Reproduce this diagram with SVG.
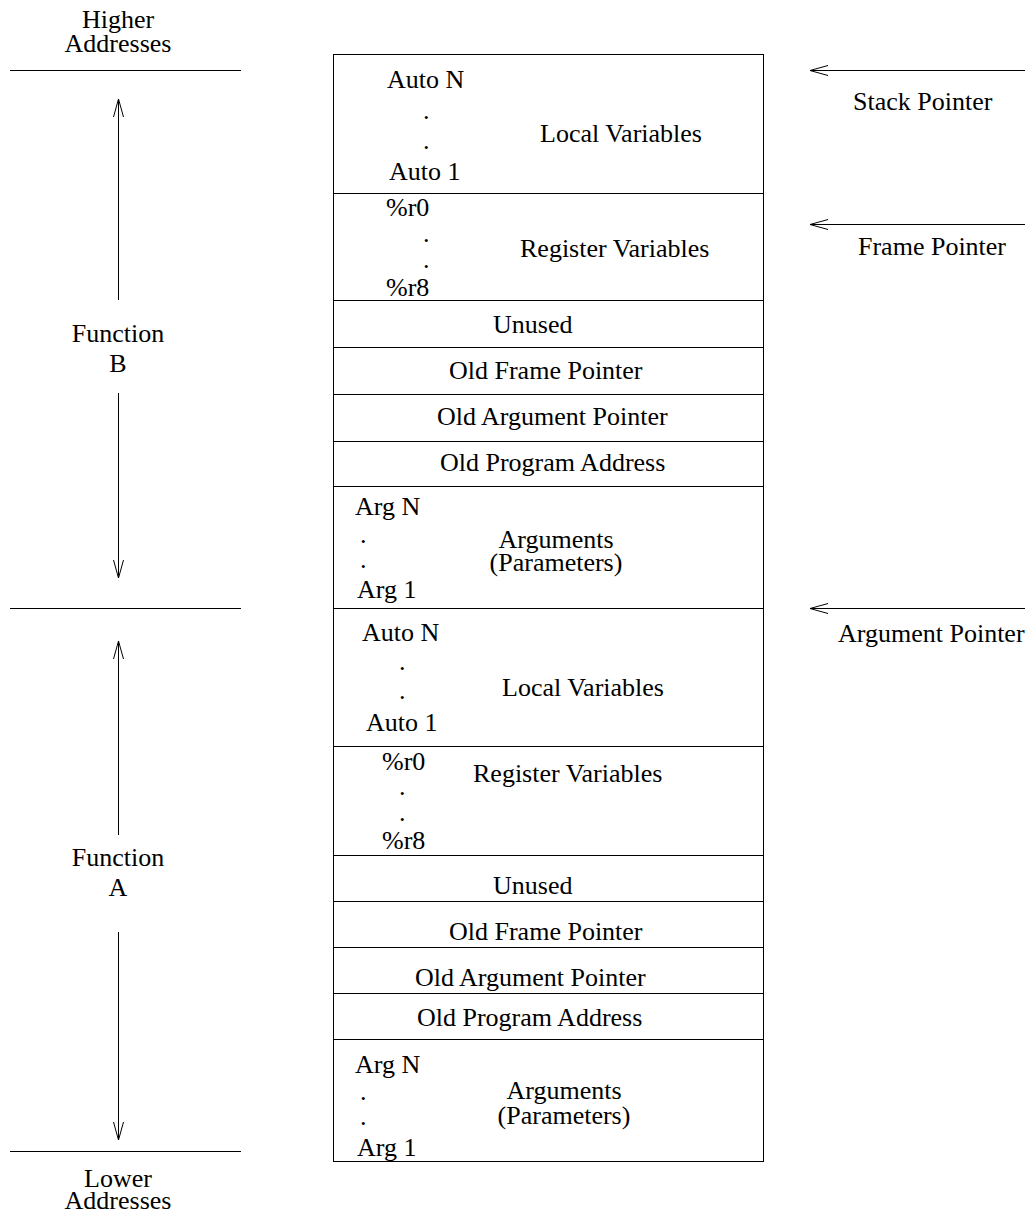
<svg xmlns="http://www.w3.org/2000/svg" width="1032" height="1214" viewBox="0 0 1032 1214">
  <style>
    text { font-family: "Liberation Serif", "Times New Roman", serif; font-size: 26px; fill: #000; }
    .c { text-anchor: middle; }
    .ln { stroke: #000; stroke-width: 1; fill: none; }
    .frame { fill: #fff; stroke: #000; stroke-width: 1; }
  </style>
  <defs>
    <!-- open "V" arrowhead, tip at the line end -->
    <marker id="open" viewBox="0 0 20 12" refX="19" refY="6" markerWidth="20" markerHeight="12" markerUnits="userSpaceOnUse" orient="auto">
      <path d="M1,1 L19,6 L1,11" fill="none" stroke="#000" stroke-width="1"/>
    </marker>
  </defs>
  <rect width="1032" height="1214" fill="#fff"/>

  <!-- address range labels and boundary rules -->
  <g id="higher-addresses">
    <text class="c" x="118" y="28">Higher</text>
    <text class="c" x="118" y="52">Addresses</text>
  </g>
  <g id="lower-addresses">
    <text class="c" x="118" y="1187">Lower</text>
    <text class="c" x="118" y="1209">Addresses</text>
  </g>
  <g id="boundaries">
    <line class="ln" x1="10" y1="70.5" x2="241" y2="70.5"/>
    <line class="ln" x1="10" y1="608.5" x2="241" y2="608.5"/>
    <line class="ln" x1="10" y1="1151.5" x2="241" y2="1151.5"/>
  </g>
  <g id="function-b">
    <text class="c" x="118" y="342">Function</text>
    <text class="c" x="118" y="372">B</text>
  </g>
  <g id="function-a">
    <text class="c" x="118" y="866">Function</text>
    <text class="c" x="118" y="896">A</text>
  </g>

  <!-- stack frame column -->
  <rect class="frame" x="333.5" y="54.5" width="430" height="1107"/>

  <!-- function B frame -->
  <g id="b-locals">
    <text x="387" y="88">Auto N</text>
    <text x="423" y="119">.</text>
    <text x="423" y="149">.</text>
    <text x="389" y="180">Auto 1</text>
    <text x="540" y="142">Local Variables</text>
  </g>
  <g id="b-registers">
    <line class="ln" x1="333" y1="193.5" x2="763" y2="193.5"/>
    <text x="386" y="216">%r0</text>
    <text x="423" y="242">.</text>
    <text x="423" y="268">.</text>
    <text x="386" y="296">%r8</text>
    <text x="520" y="257">Register Variables</text>
  </g>
  <g id="b-unused">
    <line class="ln" x1="333" y1="300.5" x2="763" y2="300.5"/>
    <text x="493" y="333">Unused</text>
  </g>
  <g id="b-old-fp">
    <line class="ln" x1="333" y1="347.5" x2="763" y2="347.5"/>
    <text x="449" y="379">Old Frame Pointer</text>
  </g>
  <g id="b-old-ap">
    <line class="ln" x1="333" y1="394.5" x2="763" y2="394.5"/>
    <text x="437" y="425">Old Argument Pointer</text>
  </g>
  <g id="b-old-pc">
    <line class="ln" x1="333" y1="441.5" x2="763" y2="441.5"/>
    <text x="440" y="471">Old Program Address</text>
  </g>
  <g id="b-args">
    <line class="ln" x1="333" y1="486.5" x2="763" y2="486.5"/>
    <text x="355" y="515">Arg N</text>
    <text x="360" y="543">.</text>
    <text x="360" y="568">.</text>
    <text x="357" y="598">Arg 1</text>
    <text class="c" x="556" y="548">Arguments</text>
    <text class="c" x="556" y="571">(Parameters)</text>
  </g>

  <!-- function A frame -->
  <g id="a-locals">
    <line class="ln" x1="333" y1="608.5" x2="763" y2="608.5"/>
    <text x="362" y="641">Auto N</text>
    <text x="399" y="670">.</text>
    <text x="399" y="699">.</text>
    <text x="366" y="731">Auto 1</text>
    <text x="502" y="696">Local Variables</text>
  </g>
  <g id="a-registers">
    <line class="ln" x1="333" y1="746.5" x2="763" y2="746.5"/>
    <text x="382" y="770">%r0</text>
    <text x="399" y="795">.</text>
    <text x="399" y="821">.</text>
    <text x="382" y="849">%r8</text>
    <text x="473" y="782">Register Variables</text>
  </g>
  <g id="a-unused">
    <line class="ln" x1="333" y1="855.5" x2="763" y2="855.5"/>
    <text x="493" y="894">Unused</text>
  </g>
  <g id="a-old-fp">
    <line class="ln" x1="333" y1="901.5" x2="763" y2="901.5"/>
    <text x="449" y="940">Old Frame Pointer</text>
  </g>
  <g id="a-old-ap">
    <line class="ln" x1="333" y1="947.5" x2="763" y2="947.5"/>
    <text x="415" y="986">Old Argument Pointer</text>
  </g>
  <g id="a-old-pc">
    <line class="ln" x1="333" y1="993.5" x2="763" y2="993.5"/>
    <text x="417" y="1026">Old Program Address</text>
  </g>
  <g id="a-args">
    <line class="ln" x1="333" y1="1039.5" x2="763" y2="1039.5"/>
    <text x="355" y="1073">Arg N</text>
    <text x="360" y="1100">.</text>
    <text x="360" y="1125">.</text>
    <text x="357" y="1156">Arg 1</text>
    <text class="c" x="564" y="1099">Arguments</text>
    <text class="c" x="564" y="1124">(Parameters)</text>
  </g>

  <!-- pointer labels -->
  <g id="stack-pointer"><text x="853" y="110">Stack Pointer</text></g>
  <g id="frame-pointer"><text x="858" y="255">Frame Pointer</text></g>
  <g id="argument-pointer"><text x="838" y="642">Argument Pointer</text></g>

  <!-- connectors: extent arrows and pointer arrows -->
  <g id="connectors">
    <line class="ln" x1="118.5" y1="300" x2="118.5" y2="99" marker-end="url(#open)"/>
    <line class="ln" x1="118.5" y1="393" x2="118.5" y2="578" marker-end="url(#open)"/>
    <line class="ln" x1="118.5" y1="835" x2="118.5" y2="641" marker-end="url(#open)"/>
    <line class="ln" x1="118.5" y1="932" x2="118.5" y2="1140" marker-end="url(#open)"/>
    <line class="ln" x1="1025" y1="70.5" x2="810" y2="70.5" marker-end="url(#open)"/>
    <line class="ln" x1="1025" y1="224.5" x2="810" y2="224.5" marker-end="url(#open)"/>
    <line class="ln" x1="1025" y1="608.5" x2="810" y2="608.5" marker-end="url(#open)"/>
  </g>
</svg>
